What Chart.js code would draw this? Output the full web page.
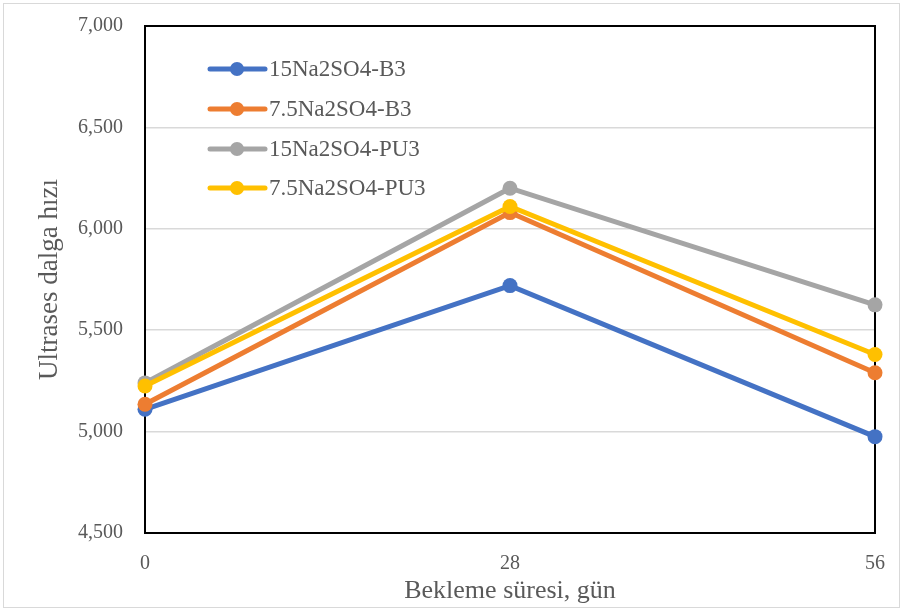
<!DOCTYPE html>
<html>
<head>
<meta charset="utf-8">
<script src="https://cdn.jsdelivr.net/npm/chart.js@4/dist/chart.umd.min.js"></script>
<style>
  html, body { margin: 0; padding: 0; background: #ffffff; }
  #wrap { width: 904px; height: 612px; position: relative; }
</style>
</head>
<body>
<div id="wrap"><canvas id="c" width="904" height="612"></canvas></div>
<script>
// Waiting time (days) on the x axis
const days = [0, 28, 56];
const dayLabels = ['0', '28', '56'];

// Ultrasonic pulse velocity per mix
const seriesNames = ['15Na2SO4-B3', '7.5Na2SO4-B3', '15Na2SO4-PU3', '7.5Na2SO4-PU3'];
const b3_15 = [5110, 5720, 4975];
const b3_75 = [5135, 6080, 5290];
const pu3_15 = [5240, 6200, 5625];
const pu3_75 = [5225, 6110, 5380];
const seriesColors = ['#4472C4', '#ED7D31', '#A5A5A5', '#FFC000'];

const yMin = 4500, yMax = 7000, yStep = 500;

const serif = "'Liberation Serif', 'Times New Roman', serif";
const textGrey = '#595959';

function toPoints(vals) {
  return days.map((d, i) => ({ x: d, y: vals[i] }));
}

const allSeries = [b3_15, b3_75, pu3_15, pu3_75];
const datasets = allSeries.map((vals, i) => ({
  label: seriesNames[i],
  data: toPoints(vals),
  borderColor: seriesColors[i],
  backgroundColor: seriesColors[i],
  borderWidth: 5,
  pointRadius: 7.5,
  pointHoverRadius: 7.5,
  pointBorderWidth: 0,
  tension: 0,
  clip: false,
  order: allSeries.length - 1 - i
}));

// Outer border, plot frame and in-plot legend
const decorations = {
  id: 'decorations',
  beforeDraw(chart) {
    const ctx = chart.ctx;
    ctx.save();
    ctx.strokeStyle = '#d9d9d9';
    ctx.lineWidth = 1;
    ctx.strokeRect(3.5, 3.5, 896, 604);
    ctx.restore();
  },
  beforeDatasetsDraw(chart) {
    const { ctx, chartArea: a } = chart;
    ctx.save();
    ctx.strokeStyle = '#000000';
    ctx.lineWidth = 2;
    ctx.strokeRect(a.left, a.top, a.right - a.left, a.bottom - a.top);
    ctx.restore();
  },
  afterDatasetsDraw(chart) {
    const ctx = chart.ctx;
    const x0 = 210, x1 = 265, xm = 237, tx = 269;
    const rows = [69, 109, 149, 188];
    ctx.save();
    chart.data.datasets.forEach((ds, i) => {
      const y = rows[i];
      ctx.strokeStyle = ds.borderColor;
      ctx.lineWidth = 5;
      ctx.lineCap = 'round';
      ctx.beginPath();
      ctx.moveTo(x0, y);
      ctx.lineTo(x1, y);
      ctx.stroke();
      ctx.fillStyle = ds.backgroundColor;
      ctx.beginPath();
      ctx.arc(xm, y, 7, 0, Math.PI * 2);
      ctx.fill();
      ctx.fillStyle = textGrey;
      ctx.font = '23px ' + serif;
      ctx.textBaseline = 'middle';
      ctx.textAlign = 'left';
      ctx.fillText(ds.label, tx, y + 1);
    });
    ctx.restore();
  }
};

new Chart(document.getElementById('c'), {
  type: 'line',
  data: { datasets },
  options: {
    responsive: false,
    animation: false,
    devicePixelRatio: 1,
    layout: { padding: { left: 0, right: 29, top: 26, bottom: 0 } },
    plugins: {
      legend: { display: false },
      tooltip: { enabled: false }
    },
    scales: {
      x: {
        type: 'linear',
        min: days[0],
        max: days[days.length - 1],
        afterBuildTicks(scale) {
          scale.ticks = days.map(v => ({ value: v }));
        },
        afterFit(scale) { scale.height = 79; },
        grid: { display: false, drawTicks: false },
        border: { display: false },
        ticks: {
          padding: 19,
          color: textGrey,
          font: { family: serif, size: 20 },
          callback: (v) => dayLabels[days.indexOf(v)]
        },
        title: {
          display: true,
          text: 'Bekleme süresi, gün',
          color: textGrey,
          font: { family: serif, size: 26 },
          padding: { top: 0, bottom: 5 }
        }
      },
      y: {
        min: yMin,
        max: yMax,
        afterFit(scale) {
          scale.width = 145;
          scale.paddingTop = 0;
          scale.paddingBottom = 0;
        },
        grid: {
          drawTicks: false,
          lineWidth: 1.5,
          color: (c) => (c.tick && (c.tick.value === yMin || c.tick.value === yMax)) ? 'rgba(0,0,0,0)' : '#d9d9d9'
        },
        border: { display: false },
        ticks: {
          stepSize: yStep,
          padding: 22,
          color: textGrey,
          font: { family: serif, size: 20 },
          callback: (v) => v.toLocaleString('en-US')
        },
        title: {
          display: true,
          text: 'Ultrases dalga hızı',
          color: textGrey,
          font: { family: serif, size: 27 },
          padding: { top: 34, bottom: 0 }
        }
      }
    }
  },
  plugins: [decorations]
});
</script>
</body>
</html>
